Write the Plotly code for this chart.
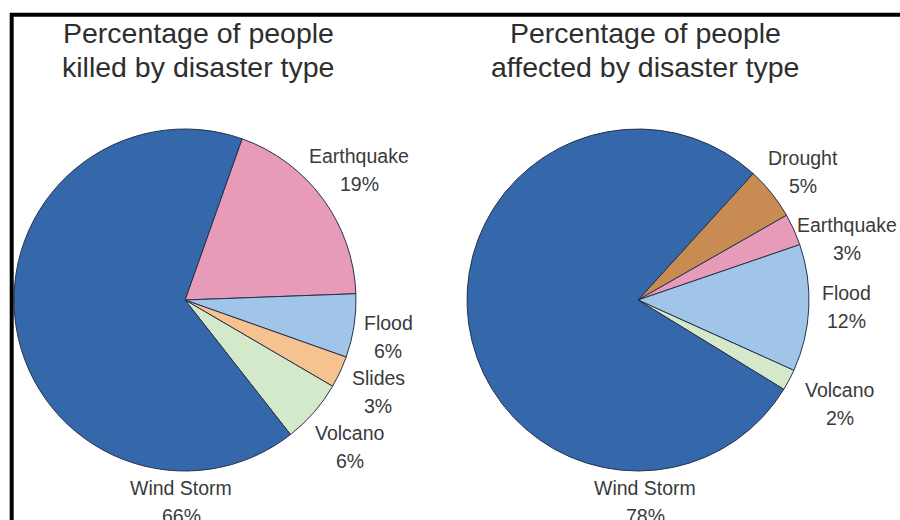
import plotly.graph_objects as go

W, H = 900, 520

# ---- data ----
killed_labels = ["Earthquake", "Flood", "Slides", "Volcano", "Wind Storm"]
killed_values = [19, 6, 3, 6, 66]

affected_labels = ["Drought", "Earthquake", "Flood", "Volcano", "Wind Storm"]
affected_values = [5, 3, 12, 2, 78]

titles = [["Percentage of people", "killed by disaster type"],
          ["Percentage of people", "affected by disaster type"]]

# ---- styles ----
colors = {
    "Wind Storm": "#3567AB",
    "Earthquake": "#E89AB9",
    "Flood": "#A0C5E9",
    "Slides": "#F6C28F",
    "Volcano": "#D4E9CA",
    "Drought": "#C88B52",
}
FONT = "Liberation Sans, Arial, Helvetica, sans-serif"

def px(x):
    return x / W

def py(y):
    return 1 - y / H

# pie placement (pixel centre, radius)
left_c, right_c, R = (185, 300), (638, 300), 171

def domain(c):
    return dict(x=[px(c[0] - R), px(c[0] + R)], y=[py(c[1] + R), py(c[1] - R)])

fig = go.Figure()
fig.add_trace(go.Pie(
    labels=killed_labels, values=killed_values, sort=False,
    direction="clockwise", rotation=19.5, textinfo="none",
    marker=dict(colors=[colors[l] for l in killed_labels],
                line=dict(color="#26324d", width=1)),
    domain=domain(left_c), showlegend=False, hoverinfo="label+percent",
))
fig.add_trace(go.Pie(
    labels=affected_labels, values=affected_values, sort=False,
    direction="clockwise", rotation=42.3, textinfo="none",
    marker=dict(colors=[colors[l] for l in affected_labels],
                line=dict(color="#26324d", width=1)),
    domain=domain(right_c), showlegend=False, hoverinfo="label+percent",
))

# label line positions (pixel centres of name line; pct line 28px below)
killed_label_pos = [(359, 156), (388, 323), (378, 378), (350, 433), (181, 488)]
affected_label_pos = [(803, 158), (847, 225), (846, 293), (840, 390), (645, 488)]

annotations = []
label_font = dict(family=FONT, size=19.5, color="#3a3a3a")
for labels, values, positions in [(killed_labels, killed_values, killed_label_pos),
                                  (affected_labels, affected_values, affected_label_pos)]:
    for lab, val, (x, y) in zip(labels, values, positions):
        annotations.append(dict(x=px(x), y=py(y), xref="paper", yref="paper",
                                text=lab, showarrow=False, font=label_font,
                                xanchor="center", yanchor="middle"))
        annotations.append(dict(x=px(x), y=py(y + 28), xref="paper", yref="paper",
                                text=f"{val}%", showarrow=False, font=label_font,
                                xanchor="center", yanchor="middle"))

title_font = dict(family=FONT, size=28.5, color="#2e2e2e")
title_x = [198, 645]
title_y = [33, 67]
for tx, lines in zip(title_x, titles):
    for ty, line in zip(title_y, lines):
        annotations.append(dict(x=px(tx), y=py(ty), xref="paper", yref="paper",
                                text=line, showarrow=False, font=title_font,
                                xanchor="center", yanchor="middle"))

shapes = [
    dict(type="line", xref="paper", yref="paper", x0=px(10), x1=1.0,
         y0=py(14.7), y1=py(14.7), line=dict(color="black", width=4)),
    dict(type="line", xref="paper", yref="paper", x0=px(11.7), x1=px(11.7),
         y0=py(13), y1=0, line=dict(color="black", width=4)),
]

fig.update_layout(
    width=W, height=H,
    margin=dict(l=0, r=0, t=0, b=0),
    paper_bgcolor="white", plot_bgcolor="white",
    annotations=annotations, shapes=shapes,
    font=dict(family=FONT),
)

fig.write_html("out.html", config={"displayModeBar": False},
               post_script="document.body.style.margin='0';document.body.style.overflow='hidden';")
